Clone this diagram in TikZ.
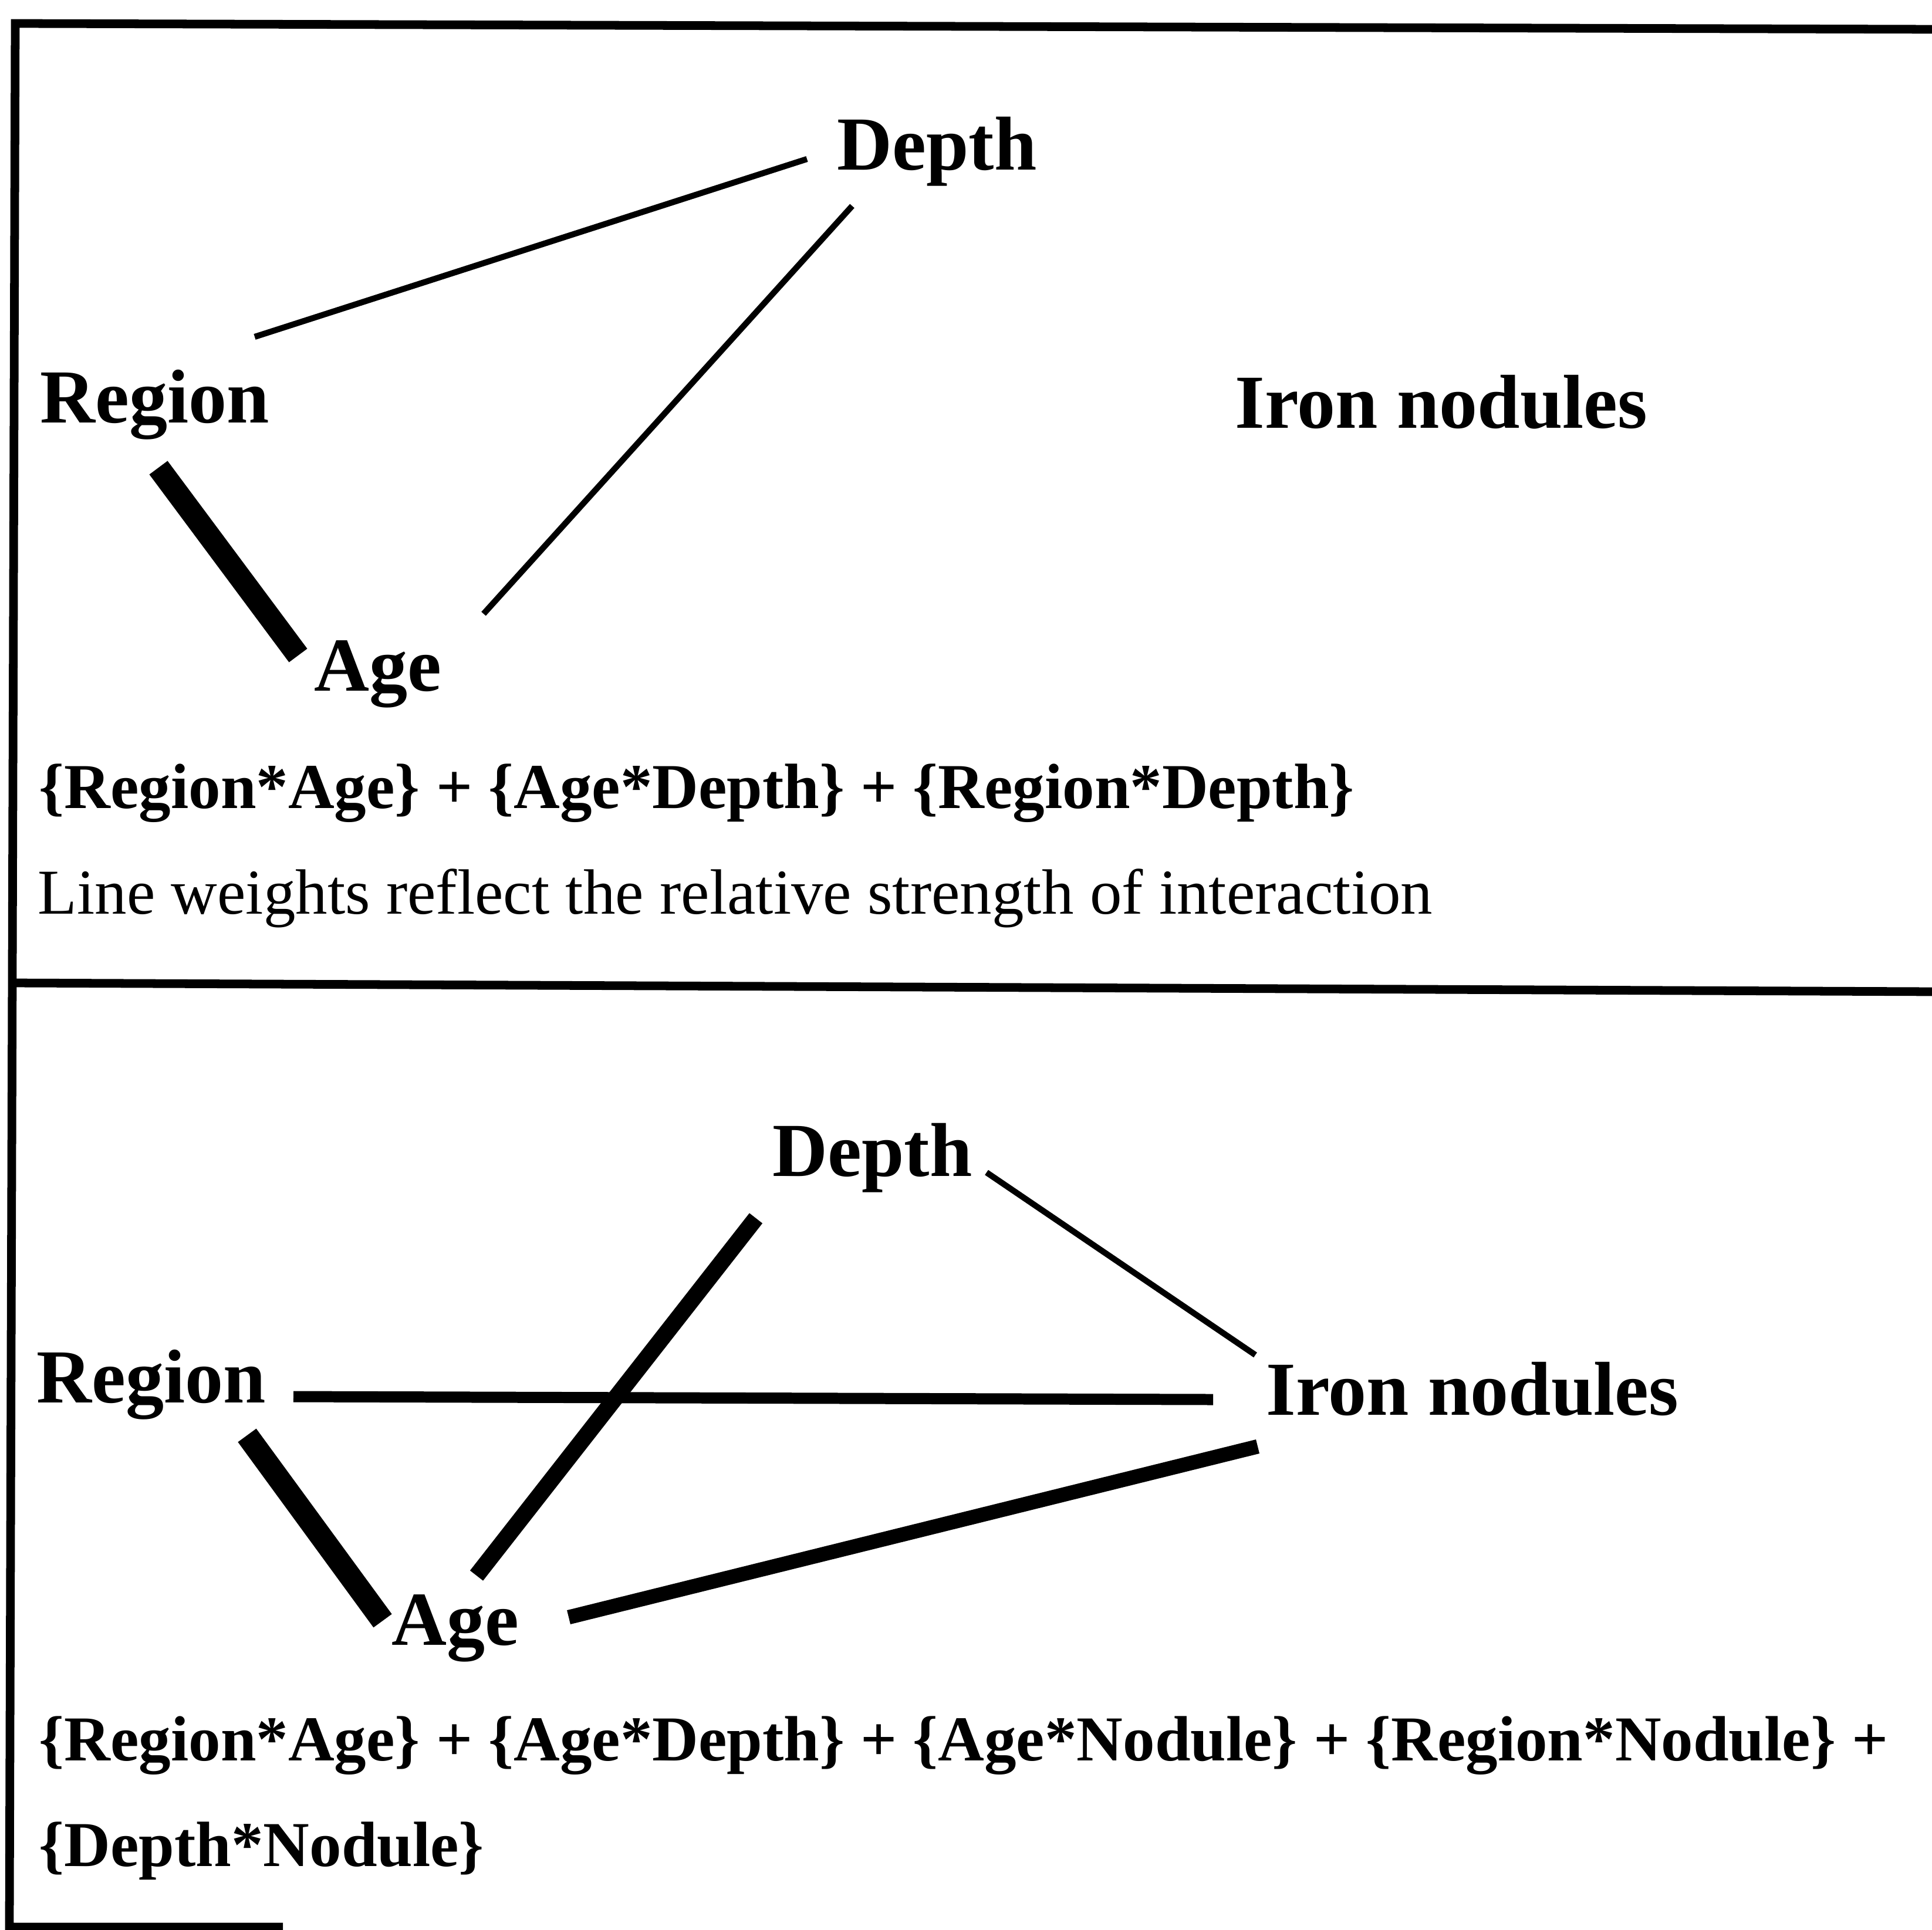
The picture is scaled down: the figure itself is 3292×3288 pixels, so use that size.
\documentclass[tikz,border=0pt]{standalone}
\usepackage{fontspec}
\setmainfont{Liberation Serif}
\begin{document}
\begin{tikzpicture}[x=0.01cm,y=-0.01cm,
  lbl/.style={inner sep=0pt, anchor=base west, font=\fontsize{37}{44}\selectfont\bfseries},
  formula/.style={inner sep=0pt, anchor=base west, font=\fontsize{31}{37}\selectfont\bfseries},
  note/.style={inner sep=0pt, anchor=base west, font=\fontsize{31}{37}\selectfont},
  frame/.style={line width=4.2pt},
  thin/.style={line width=2.9pt},
  medium/.style={line width=5.4pt},
  strong/.style={line width=7pt},
  stronger/.style={line width=8pt},
  heavy/.style={line width=11pt}]
\useasboundingbox (0,0) rectangle (3292,3288);
\fill[white] (0,0) rectangle (3292,3288);

% outer frame and divider between the two panels
\draw[frame] (3300,50) -- (26,40) -- (16,3284) -- (482,3284);
\draw[frame] (22,1675) -- (3300,1690);

% ---------- upper panel ----------
\node[lbl] (depthA)  at (1426,290)  {Depth};
\node[lbl] (regionA) at (68,720)    {Region};
\node[lbl] (ironA)   at (2104,729)  {Iron nodules};
\node[lbl] (ageA)    at (535,1177)  {Age};
\node[formula] (fA)  at (66,1377)   {\{Region*Age\} + \{Age*Depth\} + \{Region*Depth\}};
\node[note] (noteA)  at (64,1557)   {Line weights reflect the relative strength of interaction};

\coordinate (rdA1) at (434,574);   \coordinate (rdA2) at (1375,271);
\coordinate (daA1) at (1452,351);  \coordinate (daA2) at (824,1046);
\coordinate (raA1) at (270,797);   \coordinate (raA2) at (508,1117);
\draw[thin]  (rdA1) -- (rdA2);
\draw[thin]  (daA1) -- (daA2);
\draw[heavy] (raA1) -- (raA2);

% ---------- lower panel ----------
\node[lbl] (depthB)  at (1316,2004) {Depth};
\node[lbl] (regionB) at (62,2390)   {Region};
\node[lbl] (ironB)   at (2157,2411) {Iron nodules};
\node[lbl] (ageB)    at (667,2803)  {Age};
\node[formula] (fB1) at (66,3000)   {\{Region*Age\} + \{Age*Depth\} + \{Age*Nodule\} + \{Region*Nodule\} +};
\node[formula] (fB2) at (66,3180)   {\{Depth*Nodule\}};

\coordinate (riB1) at (500,2380);  \coordinate (riB2) at (2067,2385);
\coordinate (diB1) at (1681,1998); \coordinate (diB2) at (2139,2309);
\coordinate (adB1) at (1288,2076); \coordinate (adB2) at (812,2685);
\coordinate (aiB1) at (969,2756);  \coordinate (aiB2) at (2143,2465);
\coordinate (raB1) at (421,2446);  \coordinate (raB2) at (652,2762);
\draw[medium]   (riB1) -- (riB2);
\draw[thin]     (diB1) -- (diB2);
\draw[stronger] (adB1) -- (adB2);
\draw[strong]   (aiB1) -- (aiB2);
\draw[heavy]    (raB1) -- (raB2);
\end{tikzpicture}
\end{document}
